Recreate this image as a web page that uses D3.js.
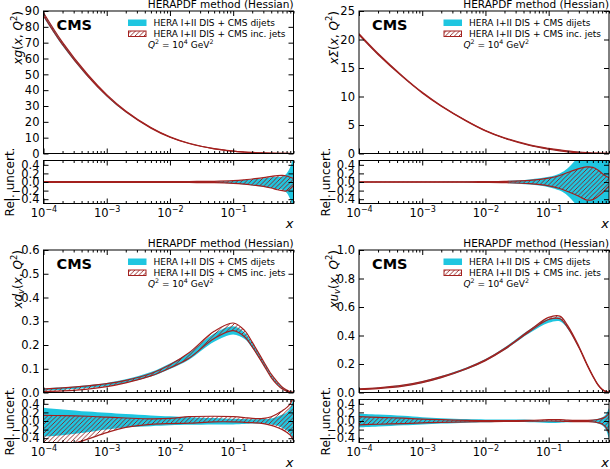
<!DOCTYPE html>
<html><head><meta charset="utf-8">
<script src="https://cdn.jsdelivr.net/npm/d3@7"></script>
<style>body{margin:0;background:#fff} svg{display:block} text{font-family:"DejaVu Sans",sans-serif}</style>
</head><body><svg id="c" width="610" height="469"></svg>
<script>
// ---------- data ----------
const xGrid = [1e-4, 2e-4, 5e-4, 1e-3, 2e-3, 5e-3, 0.01, 0.02, 0.05, 0.1, 0.15, 0.2, 0.3, 0.4, 0.5, 0.6, 0.7, 0.8, 0.9];

const gCentral = [88, 69.5, 49.4, 36.8, 26.6, 16.2, 10.4, 6.4, 3.0, 1.49, 0.91, 0.61, 0.31, 0.178, 0.104, 0.06, 0.033, 0.0166, 0.0073];
const gDijLo = [-0.02,-0.02,-0.02,-0.02,-0.02,-0.02,-0.02,-0.02,-0.025,-0.035,-0.06,-0.08,-0.11,-0.14,-0.17,-0.18,-0.25,-0.4,-0.6];
const gDijHi = [0.01,0.01,0.01,0.01,0.01,0.01,0.01,0.01,0.015,0.025,0.045,0.065,0.09,0.11,0.12,0.13,0.2,0.35,0.6];
const gIncLo = [-0.01,-0.01,-0.01,-0.01,-0.01,-0.01,-0.01,-0.012,-0.015,-0.03,-0.05,-0.07,-0.1,-0.14,-0.18,-0.2,-0.21,-0.16,-0.08];
const gIncHi = [0.01,0.01,0.01,0.01,0.01,0.01,0.01,0.012,0.015,0.03,0.05,0.07,0.1,0.13,0.15,0.155,0.14,0.11,0.08];

const sCentral = [20.9, 17.45, 13.42, 10.68, 8.34, 5.71, 4.0, 2.71, 1.46, 0.83, 0.54, 0.377, 0.2, 0.114, 0.067, 0.038, 0.021, 0.0105, 0.0046];
const sDijLo = [-0.008,-0.008,-0.008,-0.008,-0.008,-0.01,-0.012,-0.025,-0.06,-0.12,-0.2,-0.32,-0.6,-0.8,-0.8,-0.8,-0.8,-0.8,-0.8];
const sDijHi = [0.008,0.008,0.008,0.008,0.008,0.01,0.012,0.025,0.06,0.12,0.2,0.32,0.6,0.8,0.8,0.8,0.8,0.8,0.8];
const sIncLo = [-0.005,-0.005,-0.005,-0.005,-0.005,-0.005,-0.008,-0.015,-0.04,-0.09,-0.15,-0.22,-0.33,-0.42,-0.41,-0.34,-0.26,-0.17,-0.1];
const sIncHi = [0.005,0.005,0.005,0.005,0.005,0.005,0.008,0.015,0.04,0.09,0.15,0.22,0.31,0.35,0.34,0.28,0.2,0.14,0.1];

const dCentral = [0.013, 0.017, 0.025, 0.034, 0.048, 0.076, 0.11, 0.152, 0.232, 0.266, 0.243, 0.2, 0.125, 0.07, 0.038, 0.018, 0.008, 0.002, 0.0003];
const dDijLo = [-0.36,-0.33,-0.26,-0.2,-0.15,-0.12,-0.1,-0.09,-0.08,-0.08,-0.07,-0.06,-0.06,-0.08,-0.11,-0.16,-0.22,-0.3,-0.5];
const dDijHi = [0.31,0.27,0.22,0.19,0.16,0.13,0.11,0.09,0.07,0.05,0.045,0.04,0.045,0.06,0.1,0.15,0.2,0.3,0.55];
const dIncLo = [-0.7,-0.6,-0.42,-0.27,-0.15,-0.08,-0.06,-0.05,-0.02,-0.02,-0.03,-0.04,-0.06,-0.1,-0.15,-0.2,-0.26,-0.33,-0.45];
const dIncHi = [0.13,0.125,0.11,0.09,0.07,0.05,0.06,0.1,0.11,0.1,0.08,0.06,0.06,0.1,0.17,0.24,0.31,0.4,0.6];

const uCentral = [0.023, 0.03, 0.048, 0.073, 0.108, 0.168, 0.227, 0.305, 0.43, 0.512, 0.52, 0.46, 0.32, 0.2, 0.115, 0.055, 0.022, 0.007, 0.001];
const uDijLo = [-0.15,-0.13,-0.1,-0.08,-0.06,-0.04,-0.03,-0.025,-0.03,-0.045,-0.04,-0.03,-0.025,-0.025,-0.03,-0.06,-0.1,-0.2,-0.42];
const uDijHi = [0.17,0.15,0.12,0.09,0.065,0.045,0.035,0.035,0.03,0.01,0.01,0.015,0.02,0.025,0.03,0.05,0.08,0.15,0.3];
const uIncLo = [-0.09,-0.075,-0.06,-0.045,-0.03,-0.02,-0.015,-0.01,-0.005,0.0,-0.005,-0.01,-0.015,-0.015,-0.02,-0.04,-0.07,-0.14,-0.28];
const uIncHi = [0.1,0.085,0.065,0.045,0.03,0.015,0.01,0.01,0.015,0.03,0.03,0.02,0.015,0.015,0.02,0.035,0.06,0.1,0.18];

const gTicks = [0,10,20,30,40,50,60,70,80,90];
const sTicks = [0,5,10,15,20,25];
const dTicks = [0,0.1,0.2,0.3,0.4,0.5,0.6];
const uTicks = [0,0.2,0.4,0.6,0.8,1.0];
const ratioTicks = [-0.4,-0.2,0,0.2,0.4];
const xMajor = [1e-4,1e-3,1e-2,1e-1];
const xMajorExp = ["−4","−3","−2","−1"];

const titleText = "HERAPDF method (Hessian)";
const legendDij = "HERA I+II DIS + CMS dijets";
const legendInc = "HERA I+II DIS + CMS inc. jets";

// ---------- style / layout ----------
const CYAN = "#1fc6e0", RED = "#a3201e", HATCH = "#8e1a1a";
const W = 250, MAIN_H = 142.5, GAP = 7, RATIO_H = 43;

const panels = [
  {id:"g", left:43.5, top:11, ymax:90, ticks:gTicks, fmt:d3.format("d"), c:gCentral, dl:gDijLo, dh:gDijHi, il:gIncLo, ih:gIncHi,
   label:[{t:"xg",it:1},{t:"("},{t:"x",it:1},{t:", "},{t:"Q",it:1},{t:"2",sup:1},{t:")"}]},
  {id:"s", left:359, top:11, ymax:25, ticks:sTicks, fmt:d3.format("d"), c:sCentral, dl:sDijLo, dh:sDijHi, il:sIncLo, ih:sIncHi,
   label:[{t:"xΣ",it:1},{t:"("},{t:"x",it:1},{t:", "},{t:"Q",it:1},{t:"2",sup:1},{t:")"}]},
  {id:"d", left:43.5, top:250, ymax:0.6, ticks:dTicks, fmt:d3.format(".1f"), c:dCentral, dl:dDijLo, dh:dDijHi, il:dIncLo, ih:dIncHi,
   label:[{t:"xd",it:1},{t:"v",it:1,sub:1},{t:"("},{t:"x",it:1},{t:", "},{t:"Q",it:1},{t:"2",sup:1},{t:")"}]},
  {id:"u", left:359, top:250, ymax:1.0, ticks:uTicks, fmt:d3.format(".1f"), c:uCentral, dl:uDijLo, dh:uDijHi, il:uIncLo, ih:uIncHi,
   label:[{t:"xu",it:1},{t:"v",it:1,sub:1},{t:"("},{t:"x",it:1},{t:", "},{t:"Q",it:1},{t:"2",sup:1},{t:")"}]}
];

const svg = d3.select("#c");
const defs = svg.append("defs");
defs.append("pattern").attr("id","hatch").attr("patternUnits","userSpaceOnUse")
  .attr("width",4.5).attr("height",4.5)
  .append("path").attr("d","M-1,1 l2,-2 M0,4.5 l4.5,-4.5 M3.5,5.5 l2,-2")
  .attr("stroke",HATCH).attr("stroke-width",0.9).attr("fill","none");

function rich(sel, parts, fs){
  let shift = 0;
  parts.forEach(p=>{
    const ts = sel.append("tspan").text(p.t);
    let target = p.sup ? -0.42*fs : (p.sub ? 0.2*fs : 0);
    if (target-shift !== 0) ts.attr("dy", target-shift);
    shift = target;
    if (p.it) ts.attr("font-style","italic");
    if (p.sup || p.sub) ts.attr("font-size", fs*0.7);
  });
}

panels.forEach(p=>{
  const L = p.left, T = p.top, R = L+W, B = T+MAIN_H;
  const rT = B+GAP, rB = rT+RATIO_H;
  const x = d3.scaleLog().domain([1e-4,0.9]).range([L,R]);
  const y = d3.scaleLinear().domain([0,p.ymax]).range([B,T]);
  const yr = d3.scaleLinear().domain([-0.5,0.5]).range([rB,rT]);
  const rows = xGrid.map((xv,i)=>({x:xv, c:p.c[i], dl:p.dl[i], dh:p.dh[i], il:p.il[i], ih:p.ih[i]}));

  defs.append("clipPath").attr("id","cm"+p.id).append("rect").attr("x",L).attr("y",T).attr("width",W).attr("height",MAIN_H);
  defs.append("clipPath").attr("id","cr"+p.id).append("rect").attr("x",L).attr("y",rT).attr("width",W).attr("height",RATIO_H);

  const cv = d3.curveCatmullRom.alpha(0.5);
  // main bands
  const gm = svg.append("g").attr("clip-path",`url(#cm${p.id})`);
  gm.append("path").datum(rows).attr("fill",CYAN)
    .attr("d", d3.area().curve(cv).x(d=>x(d.x)).y0(d=>y(d.c*(1+d.dl))).y1(d=>y(d.c*(1+d.dh))));
  gm.append("path").datum(rows).attr("fill","url(#hatch)")
    .attr("d", d3.area().curve(cv).x(d=>x(d.x)).y0(d=>y(d.c*(1+d.il))).y1(d=>y(d.c*(1+d.ih))));
  ["il","ih"].forEach(k=>{
    gm.append("path").datum(rows).attr("fill","none").attr("stroke",RED).attr("stroke-width",1.2)
      .attr("d", d3.line().curve(cv).x(d=>x(d.x)).y(d=>y(d.c*(1+d[k]))));
  });
  // ratio bands
  const gr = svg.append("g").attr("clip-path",`url(#cr${p.id})`);
  gr.append("path").datum(rows).attr("fill",CYAN)
    .attr("d", d3.area().curve(cv).x(d=>x(d.x)).y0(d=>yr(d.dl)).y1(d=>yr(d.dh)));
  gr.append("path").datum(rows).attr("fill","url(#hatch)")
    .attr("d", d3.area().curve(cv).x(d=>x(d.x)).y0(d=>yr(d.il)).y1(d=>yr(d.ih)));
  ["il","ih"].forEach(k=>{
    gr.append("path").datum(rows).attr("fill","none").attr("stroke",RED).attr("stroke-width",1.2)
      .attr("d", d3.line().curve(cv).x(d=>x(d.x)).y(d=>yr(d[k])));
  });

  // ticks
  const minor = x.ticks().filter(v=>!xMajor.some(m=>Math.abs(m-v)/m<1e-6));
  const clean = g=>{g.select(".domain").remove(); g.attr("font-family",null);};
  const xAx = (gen, yPos, len, vals)=>svg.append("g").attr("transform",`translate(0,${yPos})`)
      .call(gen(x).tickValues(vals).tickSize(-len).tickFormat("")).call(clean);
  [[d3.axisBottom,B],[d3.axisTop,T],[d3.axisBottom,rB],[d3.axisTop,rT]].forEach(([gen,yp])=>{
    xAx(gen,yp,5,xMajor); xAx(gen,yp,2.5,minor);
  });
  // x labels on ratio
  const xl = svg.append("g").attr("transform",`translate(0,${rB})`)
    .call(d3.axisBottom(x).tickValues(xMajor).tickSize(0).tickPadding(4))
    .call(clean);
  xl.selectAll(".tick text").attr("font-size",11.5).attr("dy",null).attr("y",13.5)
    .each(function(d,i){
      const t = d3.select(this); t.text("");
      rich(t,[{t:"10"},{t:xMajorExp[i],sup:1}],11.5);
    });
  // y axes main
  svg.append("g").attr("transform",`translate(${L},0)`)
    .call(d3.axisLeft(y).tickValues(p.ticks).tickSize(-5).tickPadding(4).tickFormat(p.fmt))
    .call(clean).selectAll("text").attr("font-size",11.5);
  svg.append("g").attr("transform",`translate(${R},0)`)
    .call(d3.axisRight(y).tickValues(p.ticks).tickSize(-5).tickFormat("")).call(clean);
  // y axes ratio
  svg.append("g").attr("transform",`translate(${L},0)`)
    .call(d3.axisLeft(yr).tickValues(ratioTicks).tickSize(-5).tickPadding(4).tickFormat(d3.format(".1f")))
    .call(clean).selectAll("text").attr("font-size",11.5);
  svg.append("g").attr("transform",`translate(${R},0)`)
    .call(d3.axisRight(yr).tickValues(ratioTicks).tickSize(-5).tickFormat("")).call(clean);

  // frames
  svg.append("rect").attr("x",L).attr("y",T).attr("width",W).attr("height",MAIN_H).attr("fill","none").attr("stroke","#000").attr("stroke-width",1);
  svg.append("rect").attr("x",L).attr("y",rT).attr("width",W).attr("height",RATIO_H).attr("fill","none").attr("stroke","#000").attr("stroke-width",1);

  // texts
  svg.append("text").attr("x",R).attr("y",T-3).attr("text-anchor","end").attr("font-size",10.5).text(titleText);
  svg.append("text").attr("x",L+13).attr("y",T+19).attr("font-size",14.5).attr("font-weight","bold").text("CMS");
  // legend
  svg.append("rect").attr("x",L+84.5).attr("y",T+8.5).attr("width",18.5).attr("height",6.5).attr("fill",CYAN);
  svg.append("rect").attr("x",L+85).attr("y",T+20).attr("width",17.5).attr("height",5.5).attr("fill","#fff");
  svg.append("rect").attr("x",L+85).attr("y",T+20).attr("width",17.5).attr("height",5.5).attr("fill","url(#hatch)")
    .attr("stroke",RED).attr("stroke-width",1);
  svg.append("text").attr("x",L+110).attr("y",T+15).attr("font-size",9).text(legendDij);
  svg.append("text").attr("x",L+110).attr("y",T+26).attr("font-size",9).text(legendInc);
  const q = svg.append("text").attr("x",L+104.5).attr("y",T+37).attr("font-size",9);
  rich(q,[{t:"Q",it:1},{t:"2",sup:1},{t:" = 10"},{t:"4",sup:1},{t:" GeV"},{t:"2",sup:1}],9);
  // axis labels
  const yl = svg.append("text").attr("transform",`translate(${L-21.5},${T}) rotate(-90)`)
    .attr("text-anchor","end").attr("font-size",12);
  rich(yl,p.label,12);
  svg.append("text").attr("transform",`translate(${L-29.5},${(rT+rB)/2}) rotate(-90)`)
    .attr("text-anchor","middle").attr("font-size",12).text("Rel. uncert.");
  svg.append("text").attr("x",R).attr("y",rB+24.5).attr("text-anchor","end").attr("font-size",13)
    .attr("font-style","italic").text("x");
});
</script></body></html>
